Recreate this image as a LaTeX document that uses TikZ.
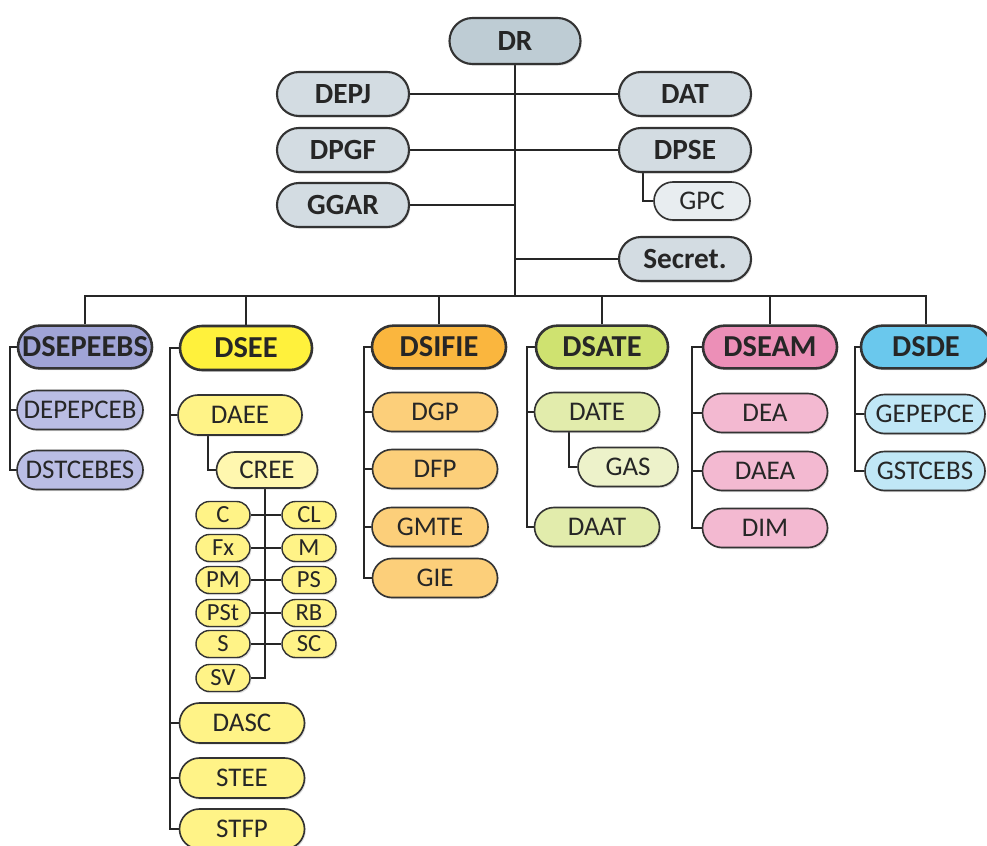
\documentclass[tikz,border=0pt]{standalone}
\usepackage{fontspec}
\setmainfont{Carlito}
\usetikzlibrary{shapes.misc,positioning,backgrounds,shadows}

% colours
\definecolor{grayD}{RGB}{190,204,212}
\definecolor{grayK}{RGB}{211,220,226}
\definecolor{grayL}{RGB}{232,237,240}
\definecolor{purpH}{RGB}{160,164,214}
\definecolor{purpK}{RGB}{186,189,228}
\definecolor{yellH}{RGB}{255,241,60}
\definecolor{yellK}{RGB}{255,243,135}
\definecolor{yellL}{RGB}{255,247,175}
\definecolor{oranH}{RGB}{250,182,62}
\definecolor{oranK}{RGB}{252,207,122}
\definecolor{grenH}{RGB}{207,226,112}
\definecolor{grenK}{RGB}{226,236,172}
\definecolor{grenL}{RGB}{237,242,202}
\definecolor{pinkH}{RGB}{236,143,183}
\definecolor{pinkK}{RGB}{243,185,209}
\definecolor{blueH}{RGB}{106,200,237}
\definecolor{blueK}{RGB}{192,231,246}

\tikzset{
  box/.style={rounded rectangle, draw=black!80, line width=1.4pt, inner sep=0pt,
    text=black!85, drop shadow={opacity=0.25,shadow xshift=0.04cm,shadow yshift=-0.05cm}},
  top/.style={box, line width=1.8pt, fill=grayK, minimum width=3.96cm, minimum height=1.32cm,
    font=\fontsize{25}{25}\selectfont\bfseries},
  head/.style={box, line width=2.2pt, minimum width=4.02cm, minimum height=1.28cm,
    font=\fontsize{26}{26}\selectfont\bfseries},
  kid/.style={box, minimum width=3.75cm, minimum height=1.17cm,
    font=\fontsize{23}{23}\selectfont},
  tiny/.style={box, line width=1.2pt, fill=yellK, minimum width=1.62cm, minimum height=0.81cm,
    font=\fontsize{21}{21}\selectfont},
  link/.style={line width=1.8pt, draw=black!85},
}

\begin{document}
\begin{tikzpicture}[x=0.03cm,y=-0.03cm]
\useasboundingbox (0,0) rectangle (987,846);

% Top management
\node[top, fill=grayD, minimum width=3.93cm, minimum height=1.38cm] (DR) at (515,41) {DR};
\node[top] (DEPJ) at (343,94) {DEPJ};
\node[top] (DAT) at (685,94) {DAT};
\node[top] (DPGF) at (343,150) {DPGF};
\node[top] (DPSE) at (685,150) {DPSE};
\node[top] (GGAR) at (343,205) {GGAR};
\node[top] (Secr) at (685,259) {Secret.};
\node[kid, fill=grayL, minimum width=2.88cm, minimum height=1.14cm] (GPC) at (702,201) {GPC};

% Directorates
\node[head, fill=purpH] (DSEPEEBS) at (85,347) {DSEPEEBS};
\node[head, fill=yellH, minimum width=3.96cm, minimum height=1.32cm] (DSEE) at (246,348) {DSEE};
\node[head, fill=oranH] (DSIFIE) at (439,347) {DSIFIE};
\node[head, fill=grenH, minimum width=3.96cm] (DSATE) at (602,347) {DSATE};
\node[head, fill=pinkH] (DSEAM) at (770,347) {DSEAM};
\node[head, fill=blueH, minimum width=3.9cm] (DSDE) at (926,347) {DSDE};

% DSEPEEBS
\node[kid, fill=purpK, minimum width=3.78cm] (DEPEPCEB) at (80,410) {DEPEPCEB};
\node[kid, fill=purpK, minimum width=3.78cm] (DSTCEBES) at (80,470) {DSTCEBES};

% DSEE
\node[kid, fill=yellK, minimum width=3.72cm, minimum height=1.2cm] (DAEE) at (240,415) {DAEE};
\node[kid, fill=yellL, minimum width=3.03cm, minimum height=1.08cm] (CREE) at (267,470) {CREE};
\foreach \a/\b/\y in {C/CL/515, Fx/M/548, PM/PS/580, PSt/RB/613, S/SC/644} {
  \node[tiny] (l\a) at (223,\y) {\a};
  \node[tiny] (r\b) at (309,\y) {\b};
}
\node[tiny] (lSV) at (223,678) {SV};
\foreach \n/\y in {DASC/723, STEE/778, STFP/829}
  \node[kid, fill=yellK, minimum height=1.2cm] (\n) at (242,\y) {\n};

% DSIFIE
\foreach \n/\y in {DGP/412, DFP/469, GIE/578}
  \node[kid, fill=oranK] (\n) at (435,\y) {\n};
\node[kid, fill=oranK, minimum width=3.48cm] (GMTE) at (430,527) {GMTE};

% DSATE
\node[kid, fill=grenK] (DATE) at (597,412) {DATE};
\node[kid, fill=grenL, minimum width=3.0cm] (GAS) at (628,467) {GAS};
\node[kid, fill=grenK] (DAAT) at (597,527) {DAAT};

% DSEAM
\foreach \n/\y in {DEA/413, DAEA/471, DIM/528}
  \node[kid, fill=pinkK] (\n) at (765,\y) {\n};

% DSDE
\node[kid, fill=blueK, minimum width=3.6cm] (GEPEPCE) at (925,414) {GEPEPCE};
\node[kid, fill=blueK, minimum width=3.6cm] (GSTCEBS) at (925,471) {GSTCEBS};

% Connectors
\begin{scope}[on background layer]
\coordinate (bus) at (515,296);
\draw[link] (DR.south) -- (bus);
\draw[link] (DEPJ.east) -- (DAT.west);
\draw[link] (DPGF.east) -- (DPSE.west);
\draw[link] (GGAR.east) -- (GGAR.east -| bus);
\draw[link] (Secr.west -| bus) -- (Secr.west);
\draw[link] ([xshift=-1.26cm]DPSE.south) |- (GPC.west);

\draw[link] (DSEPEEBS.north) -- (DSEPEEBS.north |- bus) -- (DSDE.north |- bus) -- (DSDE.north);
\foreach \h in {DSEE,DSIFIE,DSATE,DSEAM}
  \draw[link] (\h.north) -- (\h.north |- bus);

% side spines
\coordinate (sp1) at ([xshift=-0.21cm]DSEPEEBS.west);
\draw[link] (DSEPEEBS.west) -- (sp1) |- (DSTCEBES.west);
\draw[link] (sp1 |- DEPEPCEB.west) -- (DEPEPCEB.west);

\coordinate (sp2) at ([xshift=-0.27cm]DSEE.west);
\draw[link] (DSEE.west) -- (sp2) |- (STFP.west);
\foreach \n in {DAEE,DASC,STEE}
  \draw[link] (sp2 |- \n.west) -- (\n.west);
\draw[link] ([xshift=-0.96cm]DAEE.south) |- (CREE.west);
\draw[link] ([xshift=-0.06cm]CREE.south) |- (lSV.east);
\foreach \a/\b in {C/CL, Fx/M, PM/PS, PSt/RB, S/SC}
  \draw[link] (l\a.east) -- (r\b.west);

\coordinate (sp3) at ([xshift=-0.21cm]DSIFIE.west);
\draw[link] (DSIFIE.west) -- (sp3) |- (GIE.west);
\foreach \n in {DGP,DFP,GMTE}
  \draw[link] (sp3 |- \n.west) -- (\n.west);

\coordinate (sp4) at ([xshift=-0.24cm]DSATE.west);
\draw[link] (DSATE.west) -- (sp4) |- (DAAT.west);
\draw[link] (sp4 |- DATE.west) -- (DATE.west);
\draw[link] ([xshift=-0.84cm]DATE.south) |- (GAS.west);

\coordinate (sp5) at ([xshift=-0.3cm]DSEAM.west);
\draw[link] (DSEAM.west) -- (sp5) |- (DIM.west);
\foreach \n in {DEA,DAEA}
  \draw[link] (sp5 |- \n.west) -- (\n.west);

\coordinate (sp6) at ([xshift=-0.15cm]DSDE.west);
\draw[link] (DSDE.west) -- (sp6) |- (GSTCEBS.west);
\draw[link] (sp6 |- GEPEPCE.west) -- (GEPEPCE.west);
\end{scope}
\end{tikzpicture}
\end{document}
